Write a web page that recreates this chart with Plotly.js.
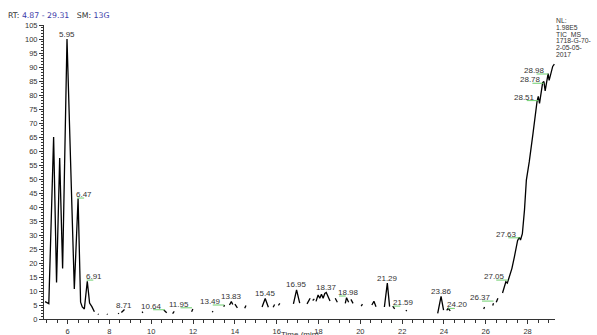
<!DOCTYPE html>
<html>
<head>
<meta charset="utf-8">
<script src="https://cdn.plot.ly/plotly-3.0.1.min.js"></script>
<style>
html,body{margin:0;padding:0;background:#fff;}
#chart{width:597px;height:335px;}
</style>
</head>
<body>
<div id="chart"></div>
<script>
// Retention time (min) and relative abundance; null = gap in the trace
const rt = [
4.92,5.1,5.33,5.47,5.62,5.76,5.97,6.32,6.5,6.62,6.7,6.8,6.94,7.05,7.16,7.28,null,
7.45,7.48,null,7.88,7.91,null,8.42,8.45,null,8.57,8.64,8.72,null,
9.56,9.6,null,10.6,10.66,10.74,null,11.02,11.1,null,11.93,11.99,null,
12.92,12.95,null,13.47,13.5,null,13.74,13.83,13.9,null,14.0,14.12,null,
14.47,14.53,null,15.3,15.45,15.6,null,15.83,15.9,null,16.08,16.15,null,
16.8,16.95,17.1,null,17.45,17.6,null,17.72,17.8,null,
17.88,17.98,18.06,18.14,18.22,18.3,18.37,18.46,18.55,null,
18.8,18.9,null,19.28,19.34,19.44,null,19.55,19.65,null,20.04,20.1,null,
20.55,20.65,20.75,null,21.15,21.29,21.4,null,21.55,21.64,null,22.18,22.22,null,
23.7,23.86,23.98,null,24.13,24.2,24.3,null,25.9,25.94,null,26.33,26.37,null,
26.5,26.58,null,
26.8,26.96,27.03,27.13,27.25,27.37,27.44,27.52,27.6,27.66,27.75,27.85,27.94,
28.02,28.08,28.26,28.37,28.45,28.51,28.57,28.72,28.78,28.84,28.98,29.03,29.2,29.28
];
const abundance = [
6.2,5.5,65,13,57.5,18,100,10.7,43,6,4.3,3.6,13.5,5.7,4.4,2.6,null,
1.8,1.6,null,1.8,1.6,null,1.8,2.1,null,2.3,2.8,3.4,null,
2.6,2.2,null,3.2,2.8,2.2,null,1.9,2.7,null,2.6,3.6,null,
2.4,2.8,null,4.4,5.0,null,5.0,6.2,5.2,null,5.3,4.0,null,
3.8,4.8,null,4.3,7.3,4.2,null,4.2,5.2,null,4.9,5.6,null,
5.4,10.4,5.7,null,5.4,7.4,null,6.6,7.2,null,
6.3,8.6,7.4,8.8,7.4,9.1,9.5,7.8,6.4,null,
7.4,6.0,null,5.6,7.6,6.0,null,7.0,5.6,null,4.6,5.3,null,
5.0,6.3,4.4,null,4.3,12.8,4.4,null,4.6,3.6,null,2.8,3.2,null,
2.0,8.1,3.2,null,3.1,3.8,2.9,null,3.6,4.3,null,4.8,5.6,null,
6.0,7.4,null,
9.3,13.3,12.8,15.1,18.1,22.3,25.8,28.0,29.2,28.2,30.5,38.9,49.6,
53.2,56.2,66.4,73.5,77.6,79.5,77.0,84.4,84.8,81.5,87.6,85.2,90.2,91.0
];

// Labelled peaks
const peakRT = [5.95,6.47,6.91,8.71,10.64,11.95,13.49,13.83,15.45,16.95,18.37,18.98,21.29,21.59,23.86,24.20,26.37,27.05,27.63,28.51,28.78,28.98];
const peakLabelY = [100,43.2,13.9,3.2,3.3,4.0,5.0,6.2,7.3,10.4,9.5,8.2,12.8,4.6,8.1,3.8,6.4,13.9,29,78,84.2,87.5];
const labelSide = ['c','r','r','c','l','l','l','c','c','c','c','r','c','r','c','r','l','l','l','l','l','l'];

const headerParts = ['RT:', '4.87 - 29.31', 'SM:', '13G'];
const nlLines = ['NL:', '1.98E5', 'TIC  MS', '1718-G-70-', '2-05-05-', '2017'];
const xTitle = 'Time (min)';

const FONT = 'Liberation Sans, Arial, Helvetica, sans-serif';
const HFONT = 'DejaVu Sans, Verdana, sans-serif';
const BLUE = '#3a3aa8';
const DARK = '#333333';

// green leader lines
const gx = [], gy = [];
peakRT.forEach((t, i) => {
  const s = labelSide[i];
  if (s === 'l') { gx.push(t - 0.55, t, null); gy.push(peakLabelY[i], peakLabelY[i], null); }
  else if (s === 'r') { gx.push(t, t + 0.32, null); gy.push(peakLabelY[i], peakLabelY[i], null); }
});

const annotations = peakRT.map((t, i) => {
  const s = labelSide[i];
  const a = {
    x: t, y: peakLabelY[i], xref: 'x', yref: 'y',
    text: t.toFixed(2), showarrow: false,
    font: {family: FONT, size: 8, color: DARK},
    yanchor: 'middle', borderpad: 0
  };
  if (s === 'c') { a.xanchor = 'center'; a.yshift = 5; }
  else if (s === 'l') { a.xanchor = 'right'; a.xshift = -2; a.yshift = 3.5; }
  else { a.xanchor = 'left'; a.xshift = -2; a.yshift = 3.5; }
  return a;
});

nlLines.forEach((line, i) => {
  annotations.push({
    x: 1.0, xref: 'paper', xanchor: 'left',
    y: 1.0146 - i * 0.0228, yref: 'paper', yanchor: 'middle',
    text: line.replace(/  /g, '&nbsp;&nbsp;'), showarrow: false, borderpad: 0,
    font: {family: FONT, size: 6.8, color: DARK}
  });
});

// x-axis title, sitting below the tick labels (partly cut by the bottom edge as in the reference)
annotations.push({
  x: 0.5, xref: 'paper', xanchor: 'center',
  y: -0.054, yref: 'paper', yanchor: 'middle',
  text: xTitle, showarrow: false, borderpad: 0,
  font: {family: FONT, size: 8, color: DARK}
});

const titleText =
  '<span style="color:' + DARK + '">' + headerParts[0] + '</span> ' +
  '<span style="color:' + BLUE + '">' + headerParts[1] + '</span>&nbsp;&nbsp;&nbsp;' +
  '<span style="color:' + DARK + '">' + headerParts[2] + '</span> ' +
  '<span style="color:' + BLUE + '">' + headerParts[3] + '</span>';

const traces = [
  {
    x: rt, y: abundance, type: 'scatter', mode: 'lines',
    line: {color: '#000000', width: 1.3},
    connectgaps: false, hoverinfo: 'skip', showlegend: false
  },
  {
    x: gx, y: gy, type: 'scatter', mode: 'lines',
    line: {color: '#6fcf6f', width: 1},
    connectgaps: false, hoverinfo: 'skip', showlegend: false
  }
];

const layout = {
  width: 597, height: 335,
  margin: {l: 44, r: 42, t: 25, b: 16, pad: 0},
  paper_bgcolor: '#ffffff', plot_bgcolor: '#ffffff',
  showlegend: false,
  title: {
    text: titleText, x: 8 / 597, xanchor: 'left', xref: 'container',
    y: 1 - 15 / 335, yanchor: 'middle', yref: 'container',
    font: {family: HFONT, size: 7.8, color: DARK}
  },
  xaxis: {
    range: [4.87, 29.31], tick0: 0, dtick: 2,
    ticks: 'outside', ticklen: 3.5, tickwidth: 1, tickcolor: DARK,
    ticklabelstandoff: 1,
    showline: true, linecolor: DARK, linewidth: 1,
    showgrid: false, zeroline: false,
    tickfont: {family: FONT, size: 7.5, color: DARK},
    minor: {dtick: 0.5, ticks: 'outside', ticklen: 2.5, tickcolor: DARK, showgrid: false},
    automargin: false, fixedrange: true
  },
  yaxis: {
    range: [0, 105], tick0: 0, dtick: 5,
    ticks: 'outside', ticklen: 4, tickwidth: 1, tickcolor: DARK,
    showline: true, linecolor: DARK, linewidth: 1,
    showgrid: false, zeroline: false,
    tickfont: {family: FONT, size: 7.5, color: DARK},
    minor: {dtick: 1, ticks: 'outside', ticklen: 2, tickcolor: DARK, showgrid: false},
    automargin: false, fixedrange: true
  },
  annotations: annotations
};

Plotly.newPlot('chart', traces, layout, {staticPlot: true, displayModeBar: false});
</script>
</body>
</html>
